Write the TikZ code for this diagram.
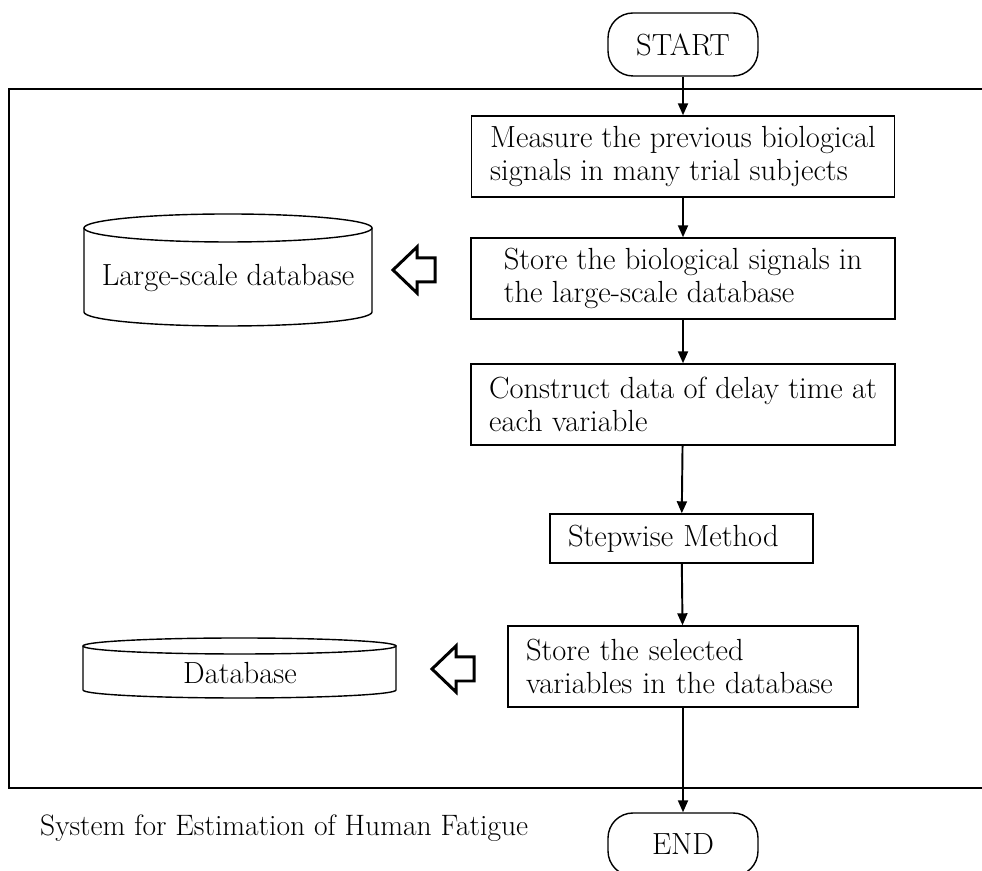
\documentclass[tikz,border=0pt]{standalone}
\usetikzlibrary{arrows.meta}

\tikzset{
  procbox/.style={draw, line width=0.8pt, align=left, minimum height=1.62cm,
    font=\fontsize{17.4}{18.6}\selectfont},
  termbox/.style={draw, line width=0.8pt, rounded corners=0.5cm, minimum width=3cm,
    minimum height=1.26cm, font=\fontsize{17.4}{18.6}\selectfont},
  flow/.style={-{Triangle[length=0.24cm,width=0.2cm]}, line width=1.1pt},
  hollowarrow/.pic={
    \draw[line width=1.7pt, line join=miter] (0,0) -- (0.48,0.46) -- (0.48,0.24) -- (0.84,0.24)
      -- (0.84,-0.24) -- (0.48,-0.24) -- (0.48,-0.46) -- cycle;
  }
}

\begin{document}
\begin{tikzpicture}
\useasboundingbox (0,0) rectangle (19.64,17.42);

% frame of the system (open on the right)
\draw[line width=1pt] (19.64,15.64) -- (0.18,15.64) -- (0.18,1.66) -- (19.64,1.66);
\node[anchor=west, font=\fontsize{16.8}{18.6}\selectfont] (caption) at (0.68,0.86) {System for Estimation of Human Fatigue};

% flow
\node[termbox] (start) at (13.66,16.53) {START};
\node[procbox, minimum width=8.46cm] (measure) at (13.66,14.29) {Measure the previous biological\\signals in many trial subjects};
\node[procbox, minimum width=8.48cm] (store) at (13.66,11.85) {Store the biological signals in\\the large-scale database};
\node[procbox, minimum width=8.48cm] (construct) at (13.66,9.33) {Construct data of delay time at\\each variable};
\node[procbox, text width=4.54cm, inner xsep=0.36cm, minimum height=0.98cm] (stepwise) at (13.63,6.65) {Stepwise Method};
\node[procbox, text width=6.28cm, inner xsep=0.36cm] (select) at (13.66,4.09) {Store the selected\\variables in the database};
\node[termbox] (end) at (13.66,0.53) {END};

\draw[flow] (start) -- (measure);
\draw[flow] (measure) -- (store);
\draw[flow] (store) -- (construct);
\draw[flow] (construct) -- (stepwise);
\draw[flow] (stepwise) -- (select);
\draw[flow] (select) -- (end);

% large-scale database
\draw[line width=0.8pt] (4.56,12.86) ellipse (2.88 and 0.28);
\draw[line width=0.8pt] (1.68,12.86) -- (1.68,11.18) arc (180:360:2.88 and 0.28) -- (7.44,12.86);
\node[font=\fontsize{17.4}{18.6}\selectfont] (largedb) at (4.56,11.86) {Large-scale database};
\pic at (7.86,12.02) {hollowarrow};

% database
\draw[line width=0.8pt] (4.79,4.5) ellipse (3.13 and 0.16);
\draw[line width=0.8pt] (1.66,4.5) -- (1.66,3.62) arc (180:360:3.13 and 0.16) -- (7.92,4.5);
\node[font=\fontsize{17.4}{18.6}\selectfont] (db) at (4.8,3.96) {Database};
\pic at (8.64,4.04) {hollowarrow};
\end{tikzpicture}
\end{document}
